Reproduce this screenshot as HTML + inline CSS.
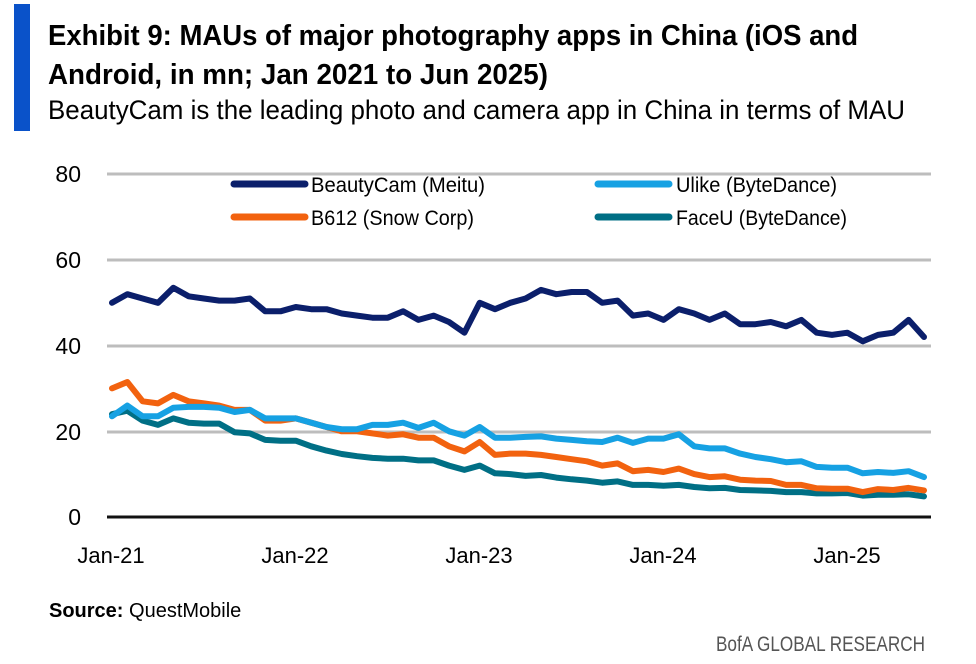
<!DOCTYPE html>
<html><head><meta charset="utf-8"><style>
html,body{margin:0;padding:0;background:#fff;}
svg{display:block;}
text{font-family:"Liberation Sans Narrow","Liberation Sans",sans-serif;}
</style></head><body>
<svg id="s" width="976" height="664" viewBox="0 0 976 664" xmlns="http://www.w3.org/2000/svg">
<rect x="14" y="4" width="16" height="127" fill="#0a52c9"/>
<text x="48" y="45" font-size="29" font-weight="bold" fill="#000" textLength="810" lengthAdjust="spacingAndGlyphs">Exhibit 9: MAUs of major photography apps in China (iOS and</text>
<text x="48" y="84" font-size="29" font-weight="bold" fill="#000" textLength="500" lengthAdjust="spacingAndGlyphs">Android, in mn; Jan 2021 to Jun 2025)</text>
<text x="48" y="119" font-size="27" fill="#000" textLength="857" lengthAdjust="spacingAndGlyphs">BeautyCam is the leading photo and camera app in China in terms of MAU</text>
<g stroke="#bdbdbd" stroke-width="3">
<line x1="107" y1="174" x2="931" y2="174"/><line x1="107" y1="260" x2="931" y2="260"/>
<line x1="107" y1="346" x2="931" y2="346"/><line x1="107" y1="432" x2="931" y2="432"/>
</g>
<line x1="107" y1="517" x2="931" y2="517" stroke="#111" stroke-width="3"/>
<g font-size="23" fill="#000" text-anchor="end">
<text x="81" y="182">80</text><text x="81" y="268">60</text><text x="81" y="354">40</text><text x="81" y="440">20</text><text x="81" y="525">0</text>
</g>
<g font-size="22" fill="#000" text-anchor="middle">
<text x="111" y="563">Jan-21</text><text x="295" y="563">Jan-22</text><text x="479" y="563">Jan-23</text><text x="663" y="563">Jan-24</text><text x="847" y="563">Jan-25</text>
</g>
<g stroke-width="7" stroke-linecap="round">
<line x1="234" y1="184" x2="305" y2="184" stroke="#0b1f6b"/>
<line x1="598" y1="184" x2="669" y2="184" stroke="#16a1e3"/>
<line x1="234" y1="217" x2="305" y2="217" stroke="#f2620f"/>
<line x1="598" y1="217" x2="669" y2="217" stroke="#006f85"/>
</g>
<g font-size="21" fill="#000">
<text x="311" y="192" textLength="174" lengthAdjust="spacingAndGlyphs">BeautyCam (Meitu)</text>
<text x="676" y="192" textLength="161" lengthAdjust="spacingAndGlyphs">Ulike (ByteDance)</text>
<text x="311" y="225" textLength="163" lengthAdjust="spacingAndGlyphs">B612 (Snow Corp)</text>
<text x="676" y="225" textLength="171" lengthAdjust="spacingAndGlyphs">FaceU (ByteDance)</text>
</g>
<g id="series" fill="none" stroke-width="6" stroke-linejoin="round" stroke-linecap="round"></g>
<text x="49" y="617" font-size="20" fill="#000"><tspan font-weight="bold">Source:</tspan> QuestMobile</text>
<text x="716" y="651" font-size="21" fill="#555" textLength="209" lengthAdjust="spacingAndGlyphs">BofA GLOBAL RESEARCH</text>
</svg>
<script>
var D={
"#006f85":[24,24.8,22.5,21.5,23,22,21.8,21.8,19.8,19.5,18,17.8,17.8,16.5,15.5,14.7,14.2,13.8,13.6,13.6,13.2,13.2,12,11,12,10.2,10,9.6,9.8,9.2,8.8,8.5,8,8.3,7.5,7.5,7.3,7.5,7,6.7,6.8,6.3,6.2,6.1,5.8,5.8,5.5,5.5,5.6,5,5.2,5.2,5.3,4.8],
"#f2620f":[30,31.5,27,26.5,28.5,27,26.5,26,25,25,22.5,22.5,23,22,21,20,20,19.5,19,19.3,18.5,18.5,16.5,15.3,17.5,14.5,14.8,14.8,14.5,14,13.5,13,12,12.5,10.7,11,10.5,11.3,10,9.3,9.5,8.7,8.5,8.4,7.5,7.5,6.7,6.6,6.6,5.8,6.5,6.3,6.8,6.2],
"#16a1e3":[23.5,26,23.5,23.5,25.5,25.7,25.7,25.5,24.5,25,23,23,23,22,21,20.5,20.5,21.5,21.5,22,20.8,22,20,19,21,18.5,18.5,18.7,18.8,18.3,18,17.7,17.5,18.5,17.3,18.3,18.3,19.3,16.5,16,16,14.8,14,13.5,12.8,13,11.7,11.5,11.5,10.2,10.5,10.3,10.7,9.3],
"#0b1f6b":[50,52,51,50,53.5,51.5,51,50.5,50.5,51,48,48,49,48.5,48.5,47.5,47,46.5,46.5,48,46,47,45.5,43,50,48.5,50,51,53,52,52.5,52.5,50,50.5,47,47.5,46,48.5,47.5,46,47.5,45,45,45.5,44.5,46,43,42.5,43,41,42.5,43,46,42]};
var g=document.getElementById("series");
for(var c in D){var p=D[c].map(function(v,i){return (112+i*15.32).toFixed(1)+","+(517-4.285*v).toFixed(1)}).join(" ");
var e=document.createElementNS("http://www.w3.org/2000/svg","polyline");e.setAttribute("points",p);e.setAttribute("stroke",c);g.appendChild(e);}
</script>
</body></html>
